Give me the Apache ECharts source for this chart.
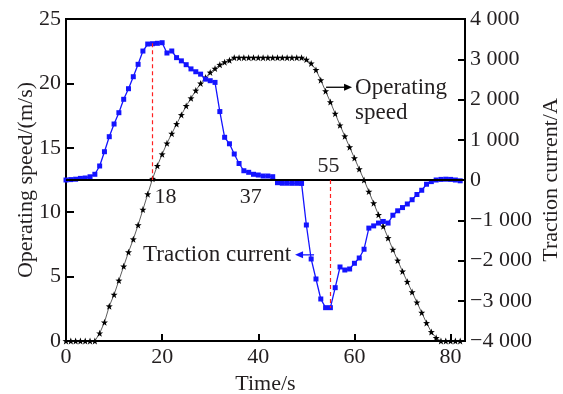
<!DOCTYPE html>
<html>
<head>
<meta charset="utf-8">
<script src="https://cdn.jsdelivr.net/npm/echarts@6/dist/echarts.min.js"></script>
<style>
  html, body { margin: 0; padding: 0; background: #fff; }
  #chart { width: 563px; height: 394px; }
</style>
</head>
<body>
<div id="chart"></div>
<script>
// Time stamps (s)
const times = [0, 1, 2, 3, 4, 5, 6, 7, 8, 9, 10, 11, 12, 13, 14, 15, 16, 17, 18, 19,
  20, 21, 22, 23, 24, 25, 26, 27, 28, 29, 30, 31, 32, 33, 34, 35, 36, 37, 38, 39,
  40, 41, 42, 43, 44, 45, 46, 47, 48, 49, 50, 51, 52, 53, 54, 55, 56, 57, 58, 59,
  60, 61, 62, 63, 64, 65, 66, 67, 68, 69, 70, 71, 72, 73, 74, 75, 76, 77, 78, 79,
  80, 81, 82];

// Operating speed (m/s)
const speed = [0, 0, 0, 0, 0, 0, 0, 0.6, 1.45, 2.7, 3.6, 4.7, 5.8, 6.9, 7.9, 9.0,
  10.2, 11.4, 12.6, 13.6, 14.5, 15.35, 16.1, 16.85, 17.55, 18.25, 18.85, 19.45,
  20.0, 20.45, 20.85, 21.15, 21.45, 21.65, 21.8, 22.0, 22.0, 22.0, 22.0, 22.0,
  22.0, 22.0, 22.0, 22.0, 22.0, 22.0, 22.0, 22.0, 22.0, 22.0, 21.85, 21.55, 21.05,
  20.25, 19.4, 18.55, 17.65, 16.75, 15.9, 15.05, 14.2, 13.35, 12.5, 11.6, 10.7,
  9.8, 8.9, 8.0, 7.1, 6.25, 5.4, 4.6, 3.8, 3.0, 2.2, 1.4, 0.7, 0.25, 0, 0, 0, 0, 0];

// Traction current (A)
const current = [0, 10, 20, 40, 50, 80, 142, 348, 703, 1076, 1391, 1672, 2005, 2268,
  2566, 2874, 3204, 3378, 3386, 3396, 3411, 3155, 3205, 3040, 2960, 2865, 2760,
  2690, 2630, 2505, 2467, 2425, 1700, 1061, 900, 646, 410, 230, 191, 142, 124, 99,
  99, 82, -67, -80, -80, -82, -82, -85, -1118, -1962, -2459, -2956, -3172, -3172,
  -2675, -2161, -2236, -2211, -2069, -1938, -1720, -1195, -1140, -1070, -1030,
  -1070, -875, -765, -685, -596, -490, -360, -255, -105, -40, 0, 15, 20, 15, 0, -20];

// Marked instants (s)
const markTimes = [18, 37, 55];
const peakCurrent = 3396;
const dipCurrent = -3172;

// Axis ticks
const timeTicks = [0, 20, 40, 60, 80];
const speedTicks = [0, 5, 10, 15, 20, 25];
const currentTicks = [-4000, -3000, -2000, -1000, 0, 1000, 2000, 3000, 4000];

const FONT = 'Liberation Serif';
const TXT = '#231f20';

const starPath = 'path://M0,-10L2.35,-3.24L9.51,-3.09L3.8,1.24L5.88,8.09L0,4L-5.88,8.09L-3.8,1.24L-9.51,-3.09L-2.35,-3.24Z';

function fmtCurrent(v) {
  const a = Math.abs(v);
  const s = a >= 1000 ? Math.floor(a / 1000) + ' ' + String(a % 1000).padStart(3, '0') : String(a);
  return (v < 0 ? '\u2212' : '') + s;
}

const chart = echarts.init(document.getElementById('chart'), null, { renderer: 'canvas' });

const axisLine = { show: true, lineStyle: { color: '#000', width: 2 } };

chart.setOption({
  animation: false,
  backgroundColor: '#fff',
  grid: {
    left: 66, right: 98, top: 19, bottom: 53,
    show: true, borderColor: '#000', borderWidth: 2,
    containLabel: false, outerBoundsMode: 'none'
  },
  xAxis: {
    type: 'value', min: timeTicks[0], max: 83, interval: timeTicks[1] - timeTicks[0],
    axisLine: axisLine,
    axisTick: { inside: true, length: 7, lineStyle: { color: '#000', width: 2 } },
    axisLabel: { showMaxLabel: false, fontFamily: FONT, fontSize: 22, color: TXT, margin: 5 },
    splitLine: { show: false },
    name: 'Time/s', nameLocation: 'middle', nameGap: 32, nameMoveOverlap: false,
    nameTextStyle: { fontFamily: FONT, fontSize: 22, color: TXT }
  },
  yAxis: [
    {
      type: 'value', position: 'left', min: speedTicks[0], max: speedTicks[speedTicks.length - 1],
      interval: speedTicks[1] - speedTicks[0],
      axisLine: axisLine,
      axisTick: { inside: true, length: 8, lineStyle: { color: '#000', width: 2 } },
      axisLabel: { fontFamily: FONT, fontSize: 22, color: TXT, margin: 5 },
      splitLine: { show: false },
      name: 'Operating speed/(m/s)', nameLocation: 'middle', nameGap: 29, nameRotate: 90,
      nameMoveOverlap: false,
      nameTextStyle: { fontFamily: FONT, fontSize: 22, color: TXT }
    },
    {
      type: 'value', position: 'right', min: currentTicks[0], max: currentTicks[currentTicks.length - 1],
      interval: currentTicks[1] - currentTicks[0],
      axisLine: axisLine,
      axisTick: { inside: true, length: 7, lineStyle: { color: '#000', width: 2 } },
      axisLabel: { fontFamily: FONT, fontSize: 22, color: TXT, margin: 5, formatter: fmtCurrent },
      splitLine: { show: false },
      name: 'Traction current/A', nameLocation: 'middle', nameGap: 75, nameRotate: 90,
      nameMoveOverlap: false,
      nameTextStyle: { fontFamily: FONT, fontSize: 22, color: TXT }
    }
  ],
  series: [
    {
      name: 'Operating speed', type: 'line', yAxisIndex: 0,
      data: times.map((t, i) => [t, speed[i]]),
      symbol: starPath, symbolSize: 7, showAllSymbol: true,
      lineStyle: { color: '#333', width: 0.8 },
      itemStyle: { color: '#000' },
      z: 3
    },
    {
      name: 'Traction current', type: 'line', yAxisIndex: 1,
      data: times.map((t, i) => [t, current[i]]),
      symbol: 'rect', symbolSize: 5, showAllSymbol: true,
      lineStyle: { color: '#1414ff', width: 1.3 },
      itemStyle: { color: '#1414ff' },
      z: 4,
      markLine: {
        silent: true, symbol: 'none', label: { show: false }, animation: false,
        data: [
          { yAxis: 0, lineStyle: { color: '#000', width: 2, type: 'solid' } },
          [{ coord: [markTimes[0], peakCurrent], lineStyle: { color: '#ff2020', width: 1.2, type: [4, 3] } }, { coord: [markTimes[0], 0] }],
          [{ coord: [markTimes[2], 0], lineStyle: { color: '#ff2020', width: 1.2, type: [4, 3] } }, { coord: [markTimes[2], dipCurrent] }]
        ]
      }
    }
  ]
});

// Annotations: marked instants, series call-outs with arrows
function px(t, v, axis) {
  return chart.convertToPixel({ xAxisIndex: 0, yAxisIndex: axis }, [t, v]);
}
const base = px(0, 0, 1);
const zeroY = base[1];
const textStyle = (extra) => Object.assign({ fontFamily: FONT, fontSize: 22, fill: TXT }, extra);

const p18 = px(markTimes[0], 0, 1);
const p37 = px(markTimes[1], 0, 1);
const p55 = px(markTimes[2], 0, 1);

const callSpeed = px(54.1, 19.7, 0);
const callCur = px(51.6, -1860, 1);

const graphics = [
  { type: 'text', x: p18[0] + 13, y: zeroY + 17, style: textStyle({ text: String(markTimes[0]), align: 'center', verticalAlign: 'middle' }) },
  { type: 'text', x: p37[0] + 7, y: zeroY + 17, style: textStyle({ text: String(markTimes[1]), align: 'center', verticalAlign: 'middle' }) },
  { type: 'text', x: p55[0] - 2, y: zeroY - 14, style: textStyle({ text: String(markTimes[2]), align: 'center', verticalAlign: 'middle' }) },
  // speed call-out
  { type: 'line', shape: { x1: callSpeed[0], y1: callSpeed[1], x2: callSpeed[0] + 19, y2: callSpeed[1] }, style: { stroke: '#000', lineWidth: 1.3 } },
  { type: 'polygon', shape: { points: [[callSpeed[0] + 18, callSpeed[1] - 3.5], [callSpeed[0] + 26, callSpeed[1]], [callSpeed[0] + 18, callSpeed[1] + 3.5]] }, style: { fill: '#000' } },
  { type: 'text', x: callSpeed[0] + 29, y: callSpeed[1] - 12, style: textStyle({ text: 'Operating\nspeed', fontSize: 23, align: 'left', verticalAlign: 'top', lineHeight: 25 }) },
  // current call-out
  { type: 'line', shape: { x1: callCur[0], y1: callCur[1], x2: callCur[0] - 12, y2: callCur[1] }, style: { stroke: '#1414ff', lineWidth: 1.3 } },
  { type: 'polygon', shape: { points: [[callCur[0] - 11, callCur[1] - 3.5], [callCur[0] - 19, callCur[1]], [callCur[0] - 11, callCur[1] + 3.5]] }, style: { fill: '#1414ff' } },
  { type: 'text', x: callCur[0] - 23, y: callCur[1], style: textStyle({ text: 'Traction current', fontSize: 23, align: 'right', verticalAlign: 'middle' }) }
];
chart.setOption({ graphic: graphics });
</script>
</body>
</html>
